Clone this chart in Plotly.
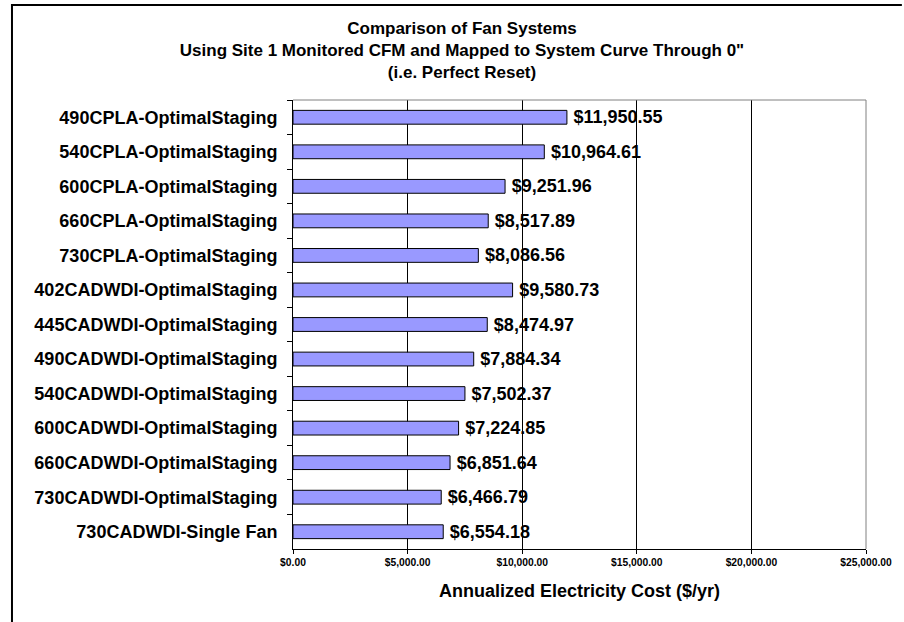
import plotly.graph_objects as go

# Fan system configurations, listed top to bottom
systems = [
    "490CPLA-OptimalStaging",
    "540CPLA-OptimalStaging",
    "600CPLA-OptimalStaging",
    "660CPLA-OptimalStaging",
    "730CPLA-OptimalStaging",
    "402CADWDI-OptimalStaging",
    "445CADWDI-OptimalStaging",
    "490CADWDI-OptimalStaging",
    "540CADWDI-OptimalStaging",
    "600CADWDI-OptimalStaging",
    "660CADWDI-OptimalStaging",
    "730CADWDI-OptimalStaging",
    "730CADWDI-Single Fan",
]

# Annualized electricity cost ($/yr)
annual_cost = [
    11950.55,
    10964.61,
    9251.96,
    8517.89,
    8086.56,
    9580.73,
    8474.97,
    7884.34,
    7502.37,
    7224.85,
    6851.64,
    6466.79,
    6554.18,
]

x_ticks = [0, 5000, 10000, 15000, 20000, 25000]
x_tick_labels = ["$0.00", "$5,000.00", "$10,000.00", "$15,000.00", "$20,000.00", "$25,000.00"]

FONT = "Arial, Liberation Sans, sans-serif"

# plot-area placement in pixels
W, H = 904, 622
L, R, T, B = 293, 36, 100, 73
PW, PH = W - L - R, H - T - B


def px_x(px):
    return (px - L) / PW


def px_y(py):
    return (H - B - py) / PH


fig = go.Figure(
    go.Bar(
        x=annual_cost,
        y=systems,
        orientation="h",
        marker=dict(color="#9999FF", line=dict(color="#000000", width=1)),
        texttemplate="\u2009$%{x:,.2f}",
        textposition="outside",
        constraintext="none",
        textfont=dict(family=FONT, size=18, color="#000000", weight="bold"),
        cliponaxis=False,
        hoverinfo="skip",
    )
)

fig.update_layout(
    width=W,
    height=H,
    margin=dict(l=L, r=R, t=T, b=B),
    paper_bgcolor="#FFFFFF",
    plot_bgcolor="#FFFFFF",
    bargap=0.6,
    showlegend=False,
    font=dict(family=FONT, color="#000000"),
    title=dict(
        text="<b>Comparison of Fan Systems<br>Using Site 1 Monitored CFM and Mapped to System Curve Through 0\"<br>(i.e. Perfect Reset)</b>",
        x=462 / W,
        xanchor="center",
        xref="container",
        y=1 - 34 / H,
        yanchor="top",
        yref="container",
        font=dict(family=FONT, size=17, color="#000000"),
    ),
    xaxis=dict(
        range=[0, 25000],
        tickvals=x_ticks,
        ticktext=x_tick_labels,
        tickfont=dict(family=FONT, size=10.3, color="#000000", weight="bold"),
        ticks="outside",
        ticklen=4,
        tickcolor="#000000",
        showline=True,
        linecolor="#000000",
        linewidth=1,
        showgrid=True,
        gridcolor="#000000",
        gridwidth=1,
        zeroline=False,
        title=dict(
            text="<b>Annualized Electricity Cost ($/yr)</b>",
            font=dict(family=FONT, size=18, color="#000000"),
            standoff=17,
        ),
    ),
    yaxis=dict(
        autorange="reversed",
        tickson="boundaries",
        ticks="outside",
        ticklen=5,
        tickcolor="#000000",
        showline=True,
        linecolor="#000000",
        linewidth=1,
        showgrid=False,
        zeroline=False,
        tickfont=dict(family=FONT, size=18, color="#000000", weight="bold"),
        ticklabelstandoff=11,
    ),
    shapes=[
        # grey frame on the top and right of the plot area
        dict(type="line", xref="paper", yref="paper", x0=0, x1=1, y0=1, y1=1,
             line=dict(color="#808080", width=1)),
        dict(type="line", xref="paper", yref="paper", x0=1, x1=1, y0=0, y1=1,
             line=dict(color="#808080", width=1)),
        # outer chart border (left and top edges)
        dict(type="line", xref="paper", yref="paper",
             x0=px_x(11), x1=px_x(11), y0=px_y(H), y1=px_y(4),
             line=dict(color="#000000", width=2)),
        dict(type="line", xref="paper", yref="paper",
             x0=px_x(10), x1=px_x(W), y0=px_y(5), y1=px_y(5),
             line=dict(color="#000000", width=2)),
    ],
)

fig.write_html("out.html")
